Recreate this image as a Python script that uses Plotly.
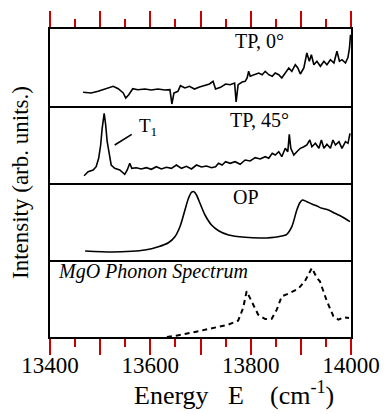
import plotly.graph_objects as go
from plotly.subplots import make_subplots

# ---------------- data ----------------
tp0_energy = [13466, 13482, 13496, 13509, 13526, 13536, 13546, 13551, 13557, 13565,
              13575, 13589, 13602, 13615, 13629, 13639, 13643, 13647, 13655, 13660,
              13669, 13678, 13688, 13698, 13708, 13718, 13725, 13730, 13740, 13750,
              13759, 13768, 13771, 13775, 13783, 13789, 13793, 13796, 13799, 13806,
              13816, 13823, 13829, 13836, 13843, 13849, 13856, 13862, 13869, 13876,
              13882, 13889, 13894, 13899, 13906, 13912, 13917, 13921, 13926, 13932,
              13939, 13946, 13952, 13959, 13966, 13972, 13977, 13982, 13989, 13994,
              13997, 13999]
tp0_intensity = [13.7, 13, 14.7, 17, 19.7, 17.3, 13, 8, 11.3, 17.3,
                 16.3, 17, 16, 17, 16, 16.3, 2, 13, 14.7, 20.3,
                 18, 19.7, 17, 19, 20.3, 22, 24.7, 17, 18.7, 22,
                 21.3, 23, 4, 21.3, 24, 24.7, 28, 34.7, 29.7, 31.3,
                 33, 31.3, 34.7, 31.3, 29.7, 33, 31.3, 28, 33, 38,
                 34.7, 41.3, 38, 32, 38, 53, 44.7, 51.3, 41.3, 44.7,
                 39.7, 44.7, 41.3, 46.3, 43, 54.7, 44.7, 46.3, 43, 48.7,
                 58, 71.3]

tp45_energy = [13468, 13476, 13486, 13492, 13497, 13501, 13504, 13508, 13511, 13514,
               13518, 13522, 13529, 13539, 13549, 13554, 13559, 13563, 13572, 13582,
               13592, 13602, 13612, 13622, 13632, 13642, 13652, 13662, 13672, 13682,
               13692, 13702, 13712, 13722, 13730, 13736, 13743, 13750, 13759, 13769,
               13779, 13789, 13799, 13809, 13819, 13829, 13836, 13843, 13849, 13856,
               13862, 13869, 13874, 13877, 13880, 13886, 13892, 13899, 13906, 13912,
               13918, 13922, 13929, 13936, 13941, 13946, 13952, 13959, 13964, 13969,
               13976, 13982, 13989, 13994, 13998]
tp45_intensity = [7.3, 11.3, 13, 16.3, 24.7, 38, 54.7, 69.7, 58, 41.3,
                  29.7, 18, 14.7, 13, 8.7, 13, 19.7, 14.7, 15.3, 14,
                  15.3, 13.7, 16.3, 14, 15.7, 14.7, 18, 14.7, 16.7, 14,
                  18, 16, 17, 15.3, 16.3, 19.7, 18, 21.3, 19.7, 21.3,
                  18.7, 23, 22, 25.3, 24, 26.3, 24.7, 29.7, 28, 31.3,
                  26.3, 34.7, 31.3, 48.7, 34.7, 28, 31.3, 34.7, 36.3, 38,
                  43, 36.3, 39.7, 34.7, 43, 34.7, 38.7, 34.7, 43, 38,
                  41.3, 34.7, 41.3, 39.7, 49.7]

op_energy = [13470, 13523, 13563, 13589, 13616, 13636, 13649, 13659, 13669, 13676,
             13682, 13687, 13692, 13699, 13709, 13722, 13736, 13756, 13789, 13822,
             13855, 13872, 13882, 13892, 13898, 13903, 13912, 13922, 13932, 13942,
             13955, 13968, 13982, 13998]
op_intensity = [9, 8, 8.7, 10, 13.3, 17.3, 23.3, 33.3, 50, 61.7,
                67.7, 68.3, 65, 56.7, 45, 35, 29.3, 25, 22.7, 22,
                23.3, 25.7, 33.3, 50, 57.3, 60, 58.3, 56, 54, 51.7,
                50, 46.7, 43.3, 38.3]

mgo_energy = [13633, 13656, 13689, 13722, 13755, 13775, 13785, 13792, 13802, 13815,
              13829, 13842, 13852, 13862, 13878, 13895, 13908, 13922, 13932, 13938,
              13952, 13965, 13975, 13985, 13996]
mgo_intensity = [0, 1.7, 5, 8.3, 12.3, 16.3, 29, 45.7, 35.7, 22.3,
                 18, 18.3, 27.3, 40.7, 44, 48.3, 55.7, 69, 59, 55.7,
                 35.7, 20.7, 17.3, 19.7, 19]

tick_values = [13400, 13500, 13600, 13700, 13800, 13900, 14000]
tick_labels = ["13400", " ", "13600", " ", "13800", " ", "14000"]

panel_labels = ["TP, 0°", "TP, 45°", "OP", "<i>MgO Phonon Spectrum</i>"]

# ---------------- figure ----------------
W, H = 385, 414
ML, MR, MT, MB = 50, 34, 29, 77
FONT = "Liberation Serif"
TICK_COLOR = "#cc0000"

fig = make_subplots(rows=4, cols=1, vertical_spacing=0)

fig.add_trace(go.Scatter(x=tp0_energy, y=tp0_intensity, mode="lines",
                         line=dict(color="black", width=1.6)), row=1, col=1)
fig.add_trace(go.Scatter(x=tp45_energy, y=tp45_intensity, mode="lines",
                         line=dict(color="black", width=1.6)), row=2, col=1)
fig.add_trace(go.Scatter(x=op_energy, y=op_intensity, mode="lines",
                         line=dict(color="black", width=1.6, shape="spline", smoothing=0.8)),
              row=3, col=1)
fig.add_trace(go.Scatter(x=mgo_energy, y=mgo_intensity, mode="lines",
                         line=dict(color="black", width=2, dash="5px,4px")), row=4, col=1)

for r in range(1, 5):
    xa = dict(range=[13400, 14000], showline=True, linecolor="black", linewidth=2,
              mirror=(r == 1), showgrid=False, zeroline=False, ticks="", showticklabels=False,
              automargin=False)
    if r == 1:
        xa.update(side="top", ticks="outside", ticklen=16, tickwidth=1.5, tickcolor=TICK_COLOR,
                  tickvals=tick_values,
                  minor=dict(ticks="outside", ticklen=8, tickwidth=1.5, tickcolor=TICK_COLOR,
                             tick0=13400, dtick=50))
    if r == 4:
        xa.update(ticks="outside", ticklen=16, tickwidth=1.5, tickcolor=TICK_COLOR,
                  tickvals=tick_values, ticktext=tick_labels, showticklabels=True,
                  ticklabelstandoff=-10,
                  tickfont=dict(family=FONT, size=23, color="black"),
                  minor=dict(ticks="outside", ticklen=8, tickwidth=1.5, tickcolor=TICK_COLOR,
                             tick0=13400, dtick=50))
    fig.update_xaxes(row=r, col=1, **xa)
    fig.update_yaxes(row=r, col=1, range=[0, 77], showline=True, linecolor="black",
                     linewidth=1.5, mirror=True, showgrid=False, zeroline=False,
                     ticks="", showticklabels=False, automargin=False)

ann = []
ann.append(dict(x=13817, y=65.5, xref="x", yref="y", text=panel_labels[0], showarrow=False,
                font=dict(family=FONT, size=20, color="black")))
ann.append(dict(x=13817, y=63, xref="x2", yref="y2", text=panel_labels[1], showarrow=False,
                font=dict(family=FONT, size=20, color="black")))
ann.append(dict(x=13791, y=63, xref="x3", yref="y3", text=panel_labels[2], showarrow=False,
                font=dict(family=FONT, size=20, color="black")))
ann.append(dict(x=13412, y=66, xref="x4", yref="y4", text=panel_labels[3], showarrow=False,
                xanchor="left", font=dict(family=FONT, size=20, color="black")))
ann.append(dict(x=13573, y=56, xref="x2", yref="y2", text="T<sub>1</sub>", showarrow=False,
                xanchor="left", font=dict(family=FONT, size=19, color="black")))

pw = W - ML - MR
ph = H - MT - MB
ann.append(dict(x=(20 - ML) / pw, y=1 - (183 - MT) / ph, xref="paper", yref="paper",
                xanchor="center", yanchor="middle",
                text="Intensity (arb. units.)", textangle=-90, showarrow=False,
                font=dict(family=FONT, size=23, color="black")))
ann.append(dict(x=(234 - ML) / pw, y=1 - (393 - MT) / ph, xref="paper", yref="paper",
                xanchor="center", yanchor="middle",
                text="Energy\u00a0\u00a0\u00a0E\u00a0\u00a0\u00a0\u00a0(cm<sup>-1</sup>)",
                showarrow=False,
                font=dict(family=FONT, size=26, color="black")))

fig.update_layout(
    width=W, height=H,
    margin=dict(l=ML, r=MR, t=MT, b=MB, pad=0, autoexpand=False),
    paper_bgcolor="white", plot_bgcolor="white",
    showlegend=False,
    annotations=ann,
    shapes=[dict(type="line", xref="x2", yref="y2", x0=13529, y0=38, x1=13563, y1=48.7,
                 line=dict(color="black", width=1.5))],
)

fig.write_html("out.html")
